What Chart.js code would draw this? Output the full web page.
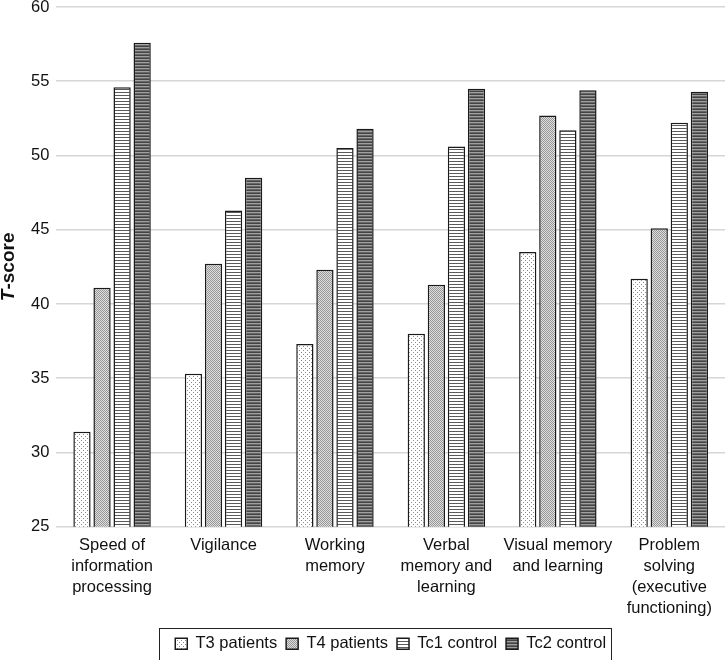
<!DOCTYPE html>
<html>
<head>
<meta charset="utf-8">
<script src="https://cdn.jsdelivr.net/npm/chart.js@4/dist/chart.umd.min.js"></script>
<style>
  html, body { margin: 0; padding: 0; background: #fff; }
  #wrap { width: 725px; height: 660px; position: relative; }
</style>
</head>
<body>
<div id="wrap"><canvas id="c" width="725" height="660"></canvas></div>
<script>
const categories = [
  ["Speed of", "information", "processing"],
  ["Vigilance"],
  ["Working", "memory"],
  ["Verbal", "memory and", "learning"],
  ["Visual memory", "and learning"],
  ["Problem", "solving", "(executive", "functioning)"]
];
const seriesNames = ["T3 patients", "T4 patients", "Tc1 control", "Tc2 control"];
const t3Values  = [31.4, 35.3, 37.3, 38.0, 43.5, 41.7];
const t4Values  = [41.1, 42.7, 42.3, 41.3, 52.7, 45.1];
const tc1Values = [54.6, 46.3, 50.5, 50.6, 51.7, 52.2];
const tc2Values = [57.6, 48.5, 51.8, 54.5, 54.4, 54.3];
const yTicks = [25, 30, 35, 40, 45, 50, 55, 60];
const yTitle = "T-score";

const FONT = '"Liberation Sans", Arial, sans-serif';

function makePattern(kind) {
  const c = document.createElement('canvas');
  const ctx = c.getContext('2d');
  if (kind === 'sparse') {
    c.width = 4; c.height = 4;
    ctx.fillStyle = '#ffffff'; ctx.fillRect(0, 0, 4, 4);
    ctx.fillStyle = '#8a8a8a';
    ctx.fillRect(1, 0, 1, 1);
    ctx.fillRect(3, 2, 1, 1);
  } else if (kind === 'dense') {
    c.width = 2; c.height = 2;
    ctx.fillStyle = '#e0e0e0'; ctx.fillRect(0, 0, 2, 2);
    ctx.fillStyle = '#959595';
    ctx.fillRect(0, 0, 1, 1);
    ctx.fillRect(1, 1, 1, 1);
  } else if (kind === 'lightlines') {
    c.width = 1; c.height = 3;
    ctx.fillStyle = '#ffffff'; ctx.fillRect(0, 0, 1, 3);
    ctx.fillStyle = '#5a5a5a'; ctx.fillRect(0, 2, 1, 1);
  } else {
    c.width = 1; c.height = 3;
    ctx.fillStyle = '#666666'; ctx.fillRect(0, 0, 1, 1);
    ctx.fillStyle = '#444444'; ctx.fillRect(0, 1, 1, 1);
    ctx.fillStyle = '#a0a0a0'; ctx.fillRect(0, 2, 1, 1);
  }
  return document.getElementById('c').getContext('2d').createPattern(c, 'repeat');
}

const fills = [makePattern('sparse'), makePattern('dense'), makePattern('lightlines'), makePattern('darklines')];
const valueSets = [t3Values, t4Values, tc1Values, tc2Values];

const legendBorder = {
  id: 'legendBorder',
  afterDraw(chart) {
    const lg = chart.legend;
    if (!lg || !lg.legendHitBoxes || !lg.legendHitBoxes.length) return;
    let l = Infinity, r = -Infinity, t = Infinity, b = -Infinity;
    lg.legendHitBoxes.forEach(h => {
      l = Math.min(l, h.left); r = Math.max(r, h.left + h.width);
      t = Math.min(t, h.top); b = Math.max(b, h.top + h.height);
    });
    const ctx = chart.ctx;
    ctx.save();
    ctx.strokeStyle = '#222';
    ctx.lineWidth = 1;
    const x0 = Math.round(l - 16) + 0.5, y0 = Math.round(t - 8) + 0.5;
    ctx.strokeRect(x0, y0, Math.round(r + 5) - x0 + 0.5, Math.round(b + 8) - y0 + 0.5);
    ctx.restore();
  }
};

const axisTitle = {
  id: 'axisTitle',
  afterDraw(chart) {
    const ctx = chart.ctx;
    const ca = chart.chartArea;
    const cy = (ca.top + ca.bottom) / 2;
    const cx = 9;
    ctx.save();
    ctx.translate(cx, cy);
    ctx.rotate(-Math.PI / 2);
    ctx.fillStyle = '#111';
    ctx.textBaseline = 'middle';
    ctx.textAlign = 'left';
    const f1 = 'italic bold 19px ' + FONT;
    const f2 = 'bold 19px ' + FONT;
    const first = yTitle.charAt(0), rest = yTitle.slice(1);
    ctx.font = f1; const w1 = ctx.measureText(first).width;
    ctx.font = f2; const w2 = ctx.measureText(rest).width;
    const x0 = -(w1 + w2) / 2;
    ctx.font = f1; ctx.fillText(first, x0, 0);
    ctx.font = f2; ctx.fillText(rest, x0 + w1, 0);
    ctx.restore();
  }
};

new Chart(document.getElementById('c'), {
  type: 'bar',
  data: {
    labels: categories,
    datasets: seriesNames.map((name, i) => ({
      label: name,
      data: valueSets[i],
      backgroundColor: fills[i],
      borderColor: '#1a1a1a',
      borderWidth: 1.5,
      borderSkipped: false,
      categoryPercentage: 0.72,
      barPercentage: 0.86
    }))
  },
  options: {
    responsive: false,
    animation: false,
    devicePixelRatio: 1,
    layout: { padding: { left: 24, right: 0, top: 7, bottom: -2 } },
    plugins: {
      legend: {
        position: 'bottom',
        fullSize: false,
        labels: {
          boxWidth: 12,
          boxHeight: 11,
          padding: 9,
          color: '#111',
          font: { family: FONT, size: 16.5 }
        }
      },
      tooltip: { enabled: false },
      title: { display: false }
    },
    scales: {
      x: {
        grid: { display: false, drawTicks: false },
        border: { display: false },
        ticks: {
          color: '#111',
          padding: 8,
          maxRotation: 0,
          autoSkip: false,
          font: { family: FONT, size: 16.5, lineHeight: 1.27 }
        }
      },
      y: {
        min: 25,
        max: 60,
        afterBuildTicks(scale) { scale.ticks = yTicks.map(v => ({ value: v })); },
        afterFit(scale) { scale.paddingTop = 0; scale.paddingBottom = 0; },
        grid: { color: '#d6d6d6', lineWidth: 1.5, drawTicks: false },
        border: { display: false },
        ticks: {
          color: '#111',
          padding: 7,
          font: { family: FONT, size: 16.5 }
        }
      }
    }
  },
  plugins: [legendBorder, axisTitle]
});
</script>
</body>
</html>
